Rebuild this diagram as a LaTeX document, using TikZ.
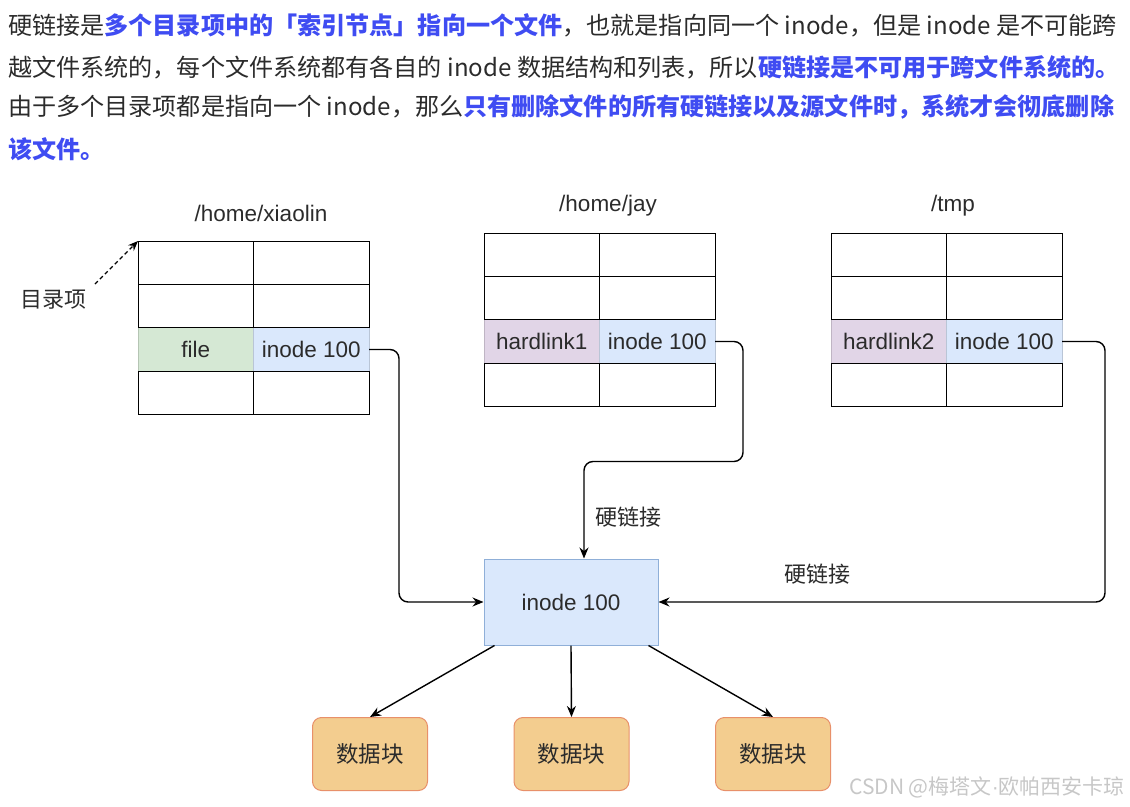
\documentclass[tikz,border=0pt]{standalone}
\usepackage{fontspec}
\setmainfont{Liberation Sans}
\newfontfamily\cjk{Noto Sans CJK SC}
\usetikzlibrary{arrows.meta}
\definecolor{txtgray}{HTML}{2B2B2B}
\definecolor{txtblue}{HTML}{3F4CF2}
\definecolor{cellgreen}{HTML}{D5E8D4}
\definecolor{cellpurple}{HTML}{E1D5E7}
\definecolor{cellblue}{HTML}{DAE8FC}
\definecolor{boxedge}{HTML}{8FAFD8}
\definecolor{blockfill}{HTML}{F3CD8F}
\definecolor{blockedge}{HTML}{E8906A}
\newcommand{\hlb}[1]{{\bfseries\color{txtblue}#1}}
\newcommand{\difont}{\fontsize{22.5bp}{26bp}\selectfont}
\begin{document}
\begin{tikzpicture}[
		x=1bp,y=-1bp,
		para/.style={anchor=west,inner sep=0pt,text=txtgray,font=\cjk\fontsize{24.1bp}{28bp}\selectfont},
		title/.style={font=\difont,text=txtgray},
		cell/.style={draw=black,line width=1bp,fill=white,minimum width=115.5bp,minimum height=43.4bp,
				inner sep=0pt,outer sep=0pt,anchor=north west,font=\difont,text=txtgray},
		greencell/.style={cell,fill=cellgreen,draw=cellgreen!85!black},
		purplecell/.style={cell,fill=cellpurple,draw=cellpurple!85!black},
		bluecell/.style={cell,fill=cellblue,draw=cellblue!85!black},
		ibox/.style={draw=boxedge,line width=1bp,fill=cellblue,minimum width=174bp,minimum height=86bp,font=\difont,text=txtgray},
		block/.style={draw=blockedge,line width=1bp,fill=blockfill,rounded corners=9bp,minimum width=115bp,
				minimum height=73bp,font=\cjk\difont,text=txtgray},
		link/.style={line width=1.4bp,-{Stealth[length=11bp,width=9bp]},rounded corners=9bp},
		note/.style={font=\cjk\fontsize{22bp}{26bp}\selectfont,text=txtgray}
	]
	\useasboundingbox (0,0) rectangle (1130,807);

	% text above the diagram
	\node[para] (line1) at (8,25) {硬链接是\hlb{多个目录项中的「索引节点」指向一个文件}，也就是指向同一个 inode，但是 inode 是不可能跨};
	\node[para] (line2) at (8,67) {越文件系统的，每个文件系统都有各自的 inode 数据结构和列表，所以\hlb{硬链接是不可用于跨文件系统的。}};
	\node[para] (line3) at (8,107) {由于多个目录项都是指向一个 inode，那么\hlb{只有删除文件的所有硬链接以及源文件时，系统才会彻底删除}};
	\node[para] (line4) at (8,149) {\hlb{该文件。}};

	% directory titles
	\node[title] (xl-title) at (261,213) {/home/xiaolin};
	\node[title] (jay-title) at (608,206) {/home/jay};
	\node[title] (tmp-title) at (953,206) {/tmp};

	% the entries that point to inode 100
	\node[greencell] (xl-3-1) at (138,327.8) {file};
	\node[bluecell] (xl-3-2) at (253.5,327.8) {inode 100};
	\node[purplecell] (jay-3-1) at (484,319.8) {hardlink1};
	\node[bluecell] (jay-3-2) at (599.5,319.8) {inode 100};
	\node[purplecell] (tmp-3-1) at (831,319.8) {hardlink2};
	\node[bluecell] (tmp-3-2) at (946.5,319.8) {inode 100};

	% empty entries
	\foreach \t/\x/\y in {xl/138/241, jay/484/233, tmp/831/233}{
		\foreach \r in {1,2,4}{
			\foreach \c in {1,2}{
				\node[cell] (\t-\r-\c) at ({\x+(\c-1)*115.5},{\y+(\r-1)*43.4}) {};
			}
		}
	}

	\node[note] (dirlabel) at (53,300) {目录项};
	\coordinate (dirtail) at (95,284);
	\draw[line width=1.4bp,dash pattern=on 4bp off 3bp,-{Stealth[length=10bp,width=8bp]}] (dirtail) -- (xl-1-1.north west);

	% inode and data blocks
	\node[ibox] (inode) at (571,602) {inode 100};
	\node[block] (blk1) at (370,754) {数据块};
	\node[block] (blk2) at (571.5,754) {数据块};
	\node[block] (blk3) at (773,754) {数据块};

	\draw[link] (xl-3-2.east) -- ++(30,0) |- (inode.west);
	\draw[link] (jay-3-2.east) -- ++(28,0) -- ++(0,120) -| ([xshift=13bp]inode.north);
	\draw[link] (tmp-3-2.east) -- ++(43,0) |- (inode.east);
	\node[note] (hl1) at (628,517) {硬链接};
	\node[note] (hl2) at (817,574) {硬链接};

	\draw[link] ([xshift=11bp]inode.south west) -- (blk1.north);
	\draw[link] (inode.south) -- (blk2.north);
	\draw[link] ([xshift=-10bp]inode.south east) -- (blk3.north);

	\node[anchor=east,inner sep=0pt,text=black!22,font=\cjk\fontsize{21bp}{23bp}\selectfont] (mark) at (1125,787) {CSDN @梅塔文{\normalfont ·}欧帕西安卡琼};
\end{tikzpicture}
\end{document}
